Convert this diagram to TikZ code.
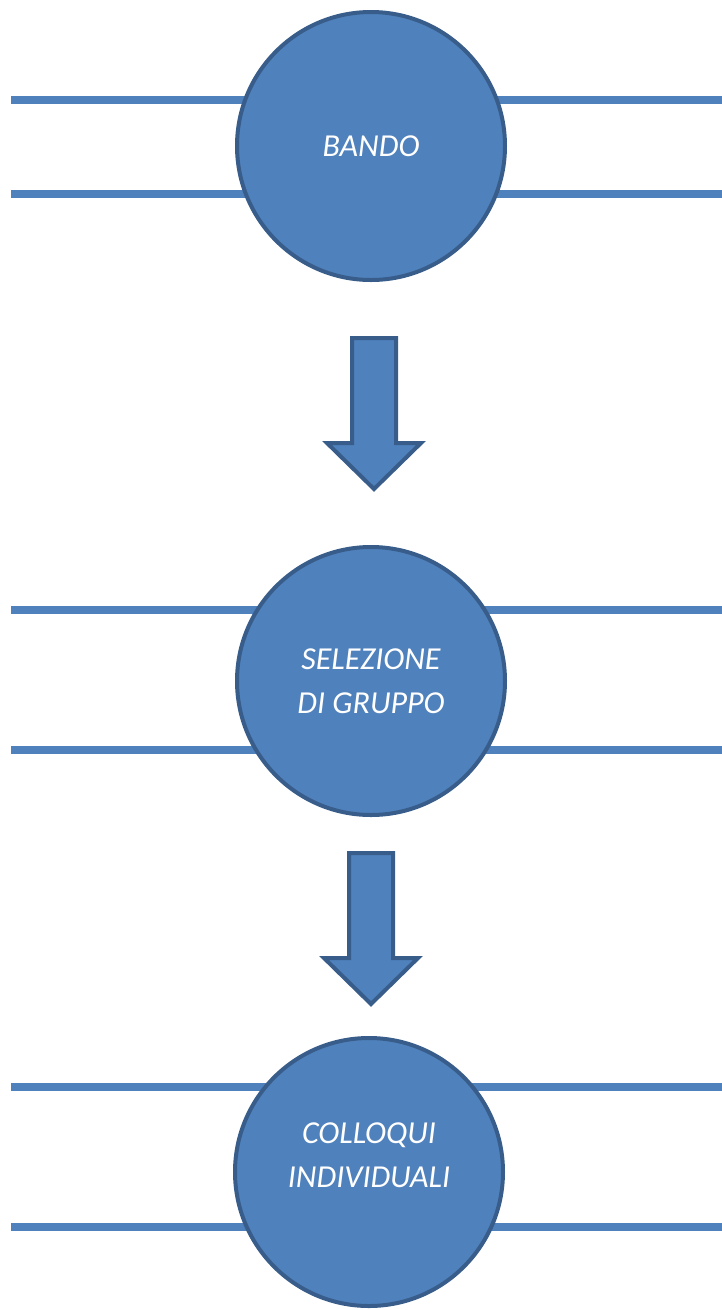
\documentclass[tikz,border=0pt]{standalone}
\usepackage{fontspec}
\setmainfont{Carlito}
\definecolor{stagefill}{HTML}{4F81BD}
\definecolor{stageedge}{HTML}{385D8A}
\tikzset{
	stage/.style={circle, draw=stageedge, fill=stagefill, line width=4pt,
		minimum size=268pt, inner sep=0pt, text=white, align=center,
		font=\fontsize{32}{44}\selectfont\itshape},
	stagetext/.style={text=white, align=center, inner sep=0pt,
		font=\fontsize{32}{44}\selectfont\itshape},
	rail/.style={draw=stagefill, line width=8pt},
	downarrow/.style={draw=stageedge, fill=stagefill, line width=4pt, line join=miter}
}

\begin{document}
\begin{tikzpicture}[x=1pt, y=-1pt]
	\useasboundingbox (0,0) rectangle (722,1310);
	
	% rails behind the stages
	\foreach \ly in {100,194,610,750,1087,1227}
		\draw[rail] (11,\ly) -- (722,\ly);
	
	\node[stage] (bando) at (371,146) {BANDO};
	\node[stage] (selezione) at (371,681) {SELEZIONE\\DI GRUPPO};
	\node[stage] (colloqui) at (369,1172) {};
	\node[stagetext] (colloquitext) at ([yshift=17pt]colloqui.center) {COLLOQUI\\INDIVIDUALI};
	
	% block arrows between stages
	\foreach \ax/\ay in {374/338, 371/853}
		\draw[downarrow] (\ax-22,\ay) -- (\ax+22,\ay) -- (\ax+22,\ay+105)
			-- (\ax+47,\ay+105) -- (\ax,\ay+151) -- (\ax-47,\ay+105)
			-- (\ax-22,\ay+105) -- cycle;
\end{tikzpicture}
\end{document}
